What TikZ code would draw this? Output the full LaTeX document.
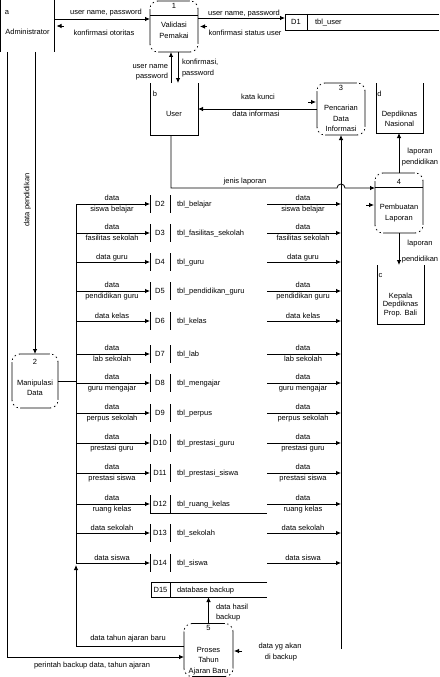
\documentclass[tikz,border=0pt]{standalone}
\usepackage{fontspec}
\setmainfont{Liberation Sans}
\usetikzlibrary{arrows.meta}
\begin{document}
\begin{tikzpicture}[x=1pt,y=-1pt,
  every node/.style={inner sep=0pt, outer sep=0pt},
  font=\fontsize{7.5}{9}\selectfont,
  ln/.style={line width=0.8pt},
  flow/.style={line width=0.8pt, -{Latex[length=5pt,width=4.5pt]}},
  proc/.style={draw, line width=0.8pt, rounded corners=8pt},
  shell/.style={draw=none},
  lbl/.style={anchor=base},
  lblw/.style={anchor=base west},
  lble/.style={anchor=base east},
  cornergap/.style={white, line width=1.8pt, dash pattern=on 3pt off 1.6pt, dash phase=1pt},
]
\useasboundingbox (0,0) rectangle (439,677);

% ---------- external entities (open top) ----------
\node[shell, minimum width=54pt, minimum height=52pt] (adm) at (27.5,26) {};
\draw[ln] (adm.north west) -- (adm.south west) (adm.north east) -- (adm.south east);
\node[lbl] (admid) at (7,14.5) {a};
\node[lbl] (admnm) at (27.5,34.5) {Administrator};

\node[shell, minimum width=48pt, minimum height=52pt] (usr) at (174,109) {};
\draw[ln] (usr.north west) -- (usr.south west) -- (usr.south east) -- (usr.north east);
\node[lbl] (usrid) at (155,96.5) {b};
\node[lbl] (usrnm) at (174,116.5) {User};

\node[shell, minimum width=47pt, minimum height=50pt] (dep) at (399.5,108) {};
\draw[ln] (dep.north west) -- (dep.south west) -- (dep.south east) -- (dep.north east);
\node[lbl] (depid) at (379.5,96.5) {d};
\node[lbl] (depn1) at (399.5,116) {Depdiknas};
\node[lbl] (depn2) at (399.5,126) {Nasional};

\node[shell, minimum width=47pt, minimum height=59pt] (kep) at (400.5,294.5) {};
\draw[ln] (kep.north west) -- (kep.south west) -- (kep.south east) -- (kep.north east);
\node[lbl] (kepid) at (380.5,277) {c};
\node[lbl] (kepn1) at (400.5,298) {Kepala};
\node[lbl] (kepn2) at (400.5,306.5) {Depdiknas};
\node[lbl] (kepn3) at (400.5,315) {Prop. Bali};

% ---------- processes ----------
\node[proc, minimum width=48pt, minimum height=51pt] (p1) at (174,26.5) {};
\draw[ln] (p1.west |- 0,15) -- (p1.east |- 0,15);
\node[lbl] (p1id) at (174,8.5) {1};
\node[lbl] (p1n1) at (174,27.5) {Validasi};
\node[lbl] (p1n2) at (174,38.5) {Pemakai};

\node[proc, minimum width=48pt, minimum height=52pt] (p3) at (341,109) {};
\node[lbl] (p3id) at (341,90) {3};
\node[lbl] (p3n1) at (341,110.5) {Pencarian};
\node[lbl] (p3n2) at (341,121) {Data};
\node[lbl] (p3n3) at (341,131) {Informasi};

\node[proc, minimum width=48pt, minimum height=60pt] (p4) at (399,203) {};
\draw[ln] (p4.west |- 0,187.5) -- (p4.east |- 0,187.5);
\node[lbl] (p4id) at (399,184) {4};
\node[lbl] (p4n1) at (399,209.5) {Pembuatan};
\node[lbl] (p4n2) at (399,220.5) {Laporan};

\node[proc, minimum width=46pt, minimum height=54pt] (p2) at (35,381) {};
\node[lbl] (p2id) at (35,364.5) {2};
\node[lbl] (p2n1) at (35,385.5) {Manipulasi};
\node[lbl] (p2n2) at (35,395) {Data};

\node[proc, minimum width=49pt, minimum height=53pt] (p5) at (208.5,650) {};
\node[lbl] (p5id) at (208.5,630.5) {5};
\node[lbl] (p5n1) at (208.5,652.5) {Proses};
\node[lbl] (p5n2) at (208.5,662.5) {Tahun};
\node[lbl] (p5n3) at (208.5,673) {Ajaran Baru};

% broken-looking rounded corners of the processes
\foreach \pp in {p1,p2,p3,p4,p5} {
  \draw[cornergap] ([yshift=-8pt]\pp.north west) arc[start angle=180, end angle=90, radius=8pt];
  \draw[cornergap] ([xshift=-8pt]\pp.north east) arc[start angle=90, end angle=0, radius=8pt];
  \draw[cornergap] ([yshift=8pt]\pp.south east) arc[start angle=0, end angle=-90, radius=8pt];
  \draw[cornergap] ([xshift=8pt]\pp.south west) arc[start angle=270, end angle=180, radius=8pt];
}

% ---------- data store D1 ----------
\node[shell, minimum width=154pt, minimum height=16pt] (d1) at (362,22) {};
\draw[ln] (d1.north east) -- (d1.north west) -- (d1.south west) -- (d1.south east);
\draw[ln] ([xshift=22pt]d1.north west) -- ([xshift=22pt]d1.south west);
\node[lbl] (did1) at (296,24.5) {D1};
\node[lblw] (dnm1) at (315,24.5) {tbl\_user};

% ---------- bus lines ----------
\coordinate (railtop) at (76,204);
\coordinate (railbot) at (76,563);
\coordinate (busbot) at (341,649);
\draw[ln] (railtop) -- (railbot);
\draw[flow] (busbot) -- (p3.south);

% ---------- data stores D2..D14 ----------
\foreach \ry/\rn/\rt in {
  204/2/tbl\_belajar, 233/3/tbl\_fasilitas\_sekolah, 262/4/tbl\_guru,
  291/5/tbl\_pendidikan\_guru, 321/6/tbl\_kelas, 354/7/tbl\_lab,
  383/8/tbl\_mengajar, 413/9/tbl\_perpus, 443/10/tbl\_prestasi\_guru,
  473/11/tbl\_prestasi\_siswa, 504/12/tbl\_ruang\_kelas,
  533/13/tbl\_sekolah, 563/14/tbl\_siswa} {
  \node[shell, minimum width=117pt, minimum height=18pt] (d\rn) at (208.5,\ry) {};
  \draw[ln] (d\rn.north west) -- (d\rn.south west);
  \draw[ln] ([xshift=20pt]d\rn.north west) -- ([xshift=20pt]d\rn.south west);
  \node[lbl] (did\rn) at (160,\ry+2.5) {D\rn};
  \node[lblw] (dnm\rn) at (177,\ry+2.5) {\rt};
  \draw[flow] (d\rn.west -| railtop) -- (d\rn.west);
  \draw[flow] (d\rn.east) -- (d\rn.east -| busbot);
}
\draw[ln] (d12.south west) -- (d12.south east);

\foreach \ry/\rn/\rb in {
  204/2/siswa belajar, 233/3/fasilitas sekolah, 291/5/pendidikan guru,
  354/7/lab sekolah, 383/8/guru mengajar, 413/9/perpus sekolah,
  443/10/prestasi guru, 473/11/prestasi siswa, 504/12/ruang kelas} {
  \node[lbl] (lla\rn) at (112,\ry-3.5) {data};
  \node[lbl] (llb\rn) at (112,\ry+7) {\rb};
  \node[lbl] (lra\rn) at (303,\ry-3.5) {data};
  \node[lbl] (lrb\rn) at (303,\ry+7) {\rb};
}
\foreach \ry/\rn/\ra in {
  262/4/data guru, 321/6/data kelas, 533/13/data sekolah, 563/14/data siswa} {
  \node[lbl] (lla\rn) at (112,\ry-2.5) {\ra};
  \node[lbl] (lra\rn) at (303,\ry-2.5) {\ra};
}

% ---------- data store D15 ----------
\node[shell, minimum width=116pt, minimum height=15pt] (d15) at (209,589.5) {};
\draw[ln] (d15.north east) -- (d15.north west) -- (d15.south west) -- (d15.south east);
\draw[ln] ([xshift=19pt]d15.north west) -- ([xshift=19pt]d15.south west);
\node[lbl] (did15) at (160.5,592) {D15};
\node[lblw] (dnm15) at (177,592) {database backup};

% ---------- flows at the top ----------
\draw[flow] ([yshift=7pt]adm.east) -- ([yshift=7pt]adm.east -| p1.west);
\node[lbl] (f1) at (106,14.5) {user name, password};
\draw[flow] ([xshift=9pt]adm.east) -- ([xshift=2pt]adm.east);
\node[lbl] (f2) at (104,35.5) {konfirmasi otoritas};

\draw[flow] ([yshift=8.5pt]p1.east) -- ([yshift=8.5pt]p1.east -| d1.west);
\node[lbl] (f3) at (244,15.5) {user name, password};
\draw[flow] ([xshift=9pt]p1.east) -- ([xshift=2pt]p1.east);
\node[lbl] (f4) at (245,35.5) {konfirmasi status user};

\draw[flow] ([xshift=-3pt]usr.north) -- ([xshift=-3pt]usr.north |- p1.south);
\node[lble] (f5a) at (168,68.5) {user name};
\node[lble] (f5b) at (168,78.5) {password};
\draw[flow] ([xshift=4pt]p1.south) -- ([xshift=4pt]p1.south |- usr.north);
\node[lblw] (f6a) at (182,64.5) {konfirmasi,};
\node[lblw] (f6b) at (182,75.5) {password};

\draw[flow] ([xshift=-9pt,yshift=7pt]p3.west) -- ([xshift=-1pt,yshift=7pt]p3.west);
\node[lbl] (f7) at (258,99.5) {kata kunci};
\draw[flow] (p3.west) -- (usr.east);
\node[lbl] (f8) at (256,116) {data informasi};

% jenis laporan with a hop over the bus
\coordinate (jl) at (171,188);
\draw[flow] ([xshift=-3pt]usr.south) -- (jl) -- ([xshift=-4pt]jl -| busbot)
  arc[start angle=180, end angle=0, radius=4pt] -- (jl -| p4.west);
\node[lbl] (f9) at (245,183) {jenis laporan};
\draw[flow] ([xshift=-9pt,yshift=-2pt]p4.west) -- ([xshift=-1pt,yshift=-2pt]p4.west);

\draw[flow] (p4.north) -- (p4.north |- dep.south);
\node[lbl] (f10a) at (420,153.5) {laporan};
\node[lbl] (f10b) at (420,164.5) {pendidikan};
\draw[flow] (p4.south) -- (p4.south |- kep.north);
\node[lbl] (f11a) at (420,245.5) {laporan};
\node[lbl] (f11b) at (420,261) {pendidikan};

% ---------- administrator to manipulasi data ----------
\draw[flow] (adm.south -| p2.north) -- (p2.north);
\node[rotate=90] (f12) at (27.5,200) {data pendidikan};
\draw[ln] (p2.east) -- (p2.east -| railtop);

% ---------- bottom flows ----------
\coordinate (pb) at (7,657);
\draw[flow] (adm.south -| pb) -- (pb) -- (pb -| p5.west);
\node[lbl] (f13) at (92,667.5) {perintah backup data, tahun ajaran};

\draw[flow] ([yshift=4pt]p5.west) -- ([yshift=4pt]p5.west -| railtop) -- ([yshift=-2pt]railbot);
\node[lbl] (f14) at (128,640) {data tahun ajaran baru};

\draw[flow] (p5.north) -- (p5.north |- d15.south);
\node[lblw] (f15a) at (216,609.5) {data hasil};
\node[lblw] (f15b) at (216,619.5) {backup};

\draw[flow] ([xshift=9pt,yshift=-1pt]p5.east) -- ([xshift=1pt,yshift=-1pt]p5.east);
\node[lbl] (f16a) at (280,648.5) {data yg akan};
\node[lbl] (f16b) at (281,659) {di backup};
\end{tikzpicture}
\end{document}
